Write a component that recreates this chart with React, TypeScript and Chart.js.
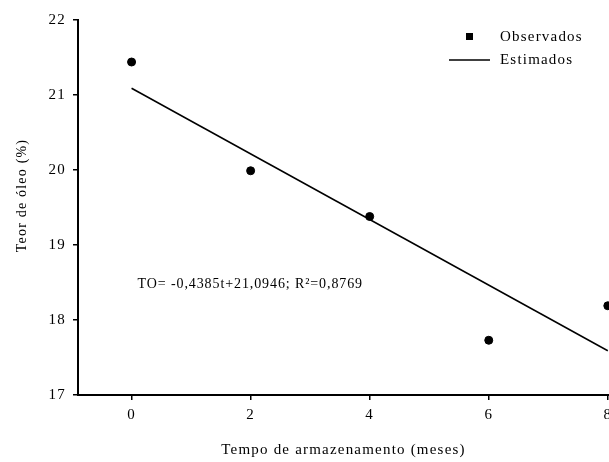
import React, { useEffect, useRef } from "react";
import { Chart, registerables } from "chart.js";

Chart.register(...registerables);

const xObserved = [0, 2, 4, 6, 8];
const yObserved = [21.44, 19.99, 19.38, 17.73, 18.19];
const xEstimated = [0, 8];
const yEstimated = [21.09, 17.59];
const xTicks = [0, 2, 4, 6, 8];
const yTicks = [17, 18, 19, 20, 21, 22];
const legendLabels = ["Observados", "Estimados"];
const equationText = "TO= -0,4385t+21,0946; R\u00b2=0,8769";
const xTitle = "Tempo de armazenamento (meses)";
const yTitle = "Teor de óleo (%)";

const FONT = "'Liberation Serif', 'Times New Roman', serif";
const SPACING = "1.2px";

const spacingPlugin = {
  id: "spacing",
  beforeInit(chart: any) {
    chart.ctx.letterSpacing = SPACING;
  },
  beforeUpdate(chart: any) {
    chart.ctx.letterSpacing = SPACING;
  },
  beforeDraw(chart: any) {
    chart.ctx.letterSpacing = SPACING;
  },
};

const overlayPlugin = {
  id: "overlay",
  afterDraw(chart: any) {
    const ctx = chart.ctx;
    const xs = chart.scales.x;
    const ys = chart.scales.y;
    ctx.save();
    ctx.letterSpacing = SPACING;
    ctx.fillStyle = "#000";
    ctx.strokeStyle = "#000";
    ctx.font = `15px ${FONT}`;
    ctx.textBaseline = "middle";
    ctx.textAlign = "left";
    // legend
    ctx.fillRect(466, 33, 7, 7);
    ctx.fillText(legendLabels[0], 500, 37);
    ctx.lineWidth = 1.5;
    ctx.beginPath();
    ctx.moveTo(449, 60);
    ctx.lineTo(490, 60);
    ctx.stroke();
    ctx.fillText(legendLabels[1], 500, 60);
    // equation
    ctx.letterSpacing = "0.9px";
    ctx.font = `14px ${FONT}`;
    ctx.fillText(equationText, xs.getPixelForValue(0.1), ys.getPixelForValue(18.48));
    // y title
    ctx.letterSpacing = SPACING;
    ctx.font = `14px ${FONT}`;
    ctx.textAlign = "center";
    ctx.translate(22, ys.getPixelForValue(19.66));
    ctx.rotate(-Math.PI / 2);
    ctx.fillText(yTitle, 0, 0);
    ctx.restore();
  },
};

export default function App() {
  const ref = useRef<HTMLCanvasElement | null>(null);
  useEffect(() => {
    document.body.style.margin = "0";
    const canvas = ref.current;
    if (!canvas) return;
    const chart = new Chart(canvas, {
      type: "scatter",
      data: {
        datasets: [
          {
            label: legendLabels[0],
            data: xObserved.map((x, i) => ({ x, y: yObserved[i] })),
            backgroundColor: "#000",
            borderColor: "#000",
            pointRadius: 4,
            pointHoverRadius: 4,
            clip: false as any,
          },
          {
            type: "line" as any,
            label: legendLabels[1],
            data: xEstimated.map((x, i) => ({ x, y: yEstimated[i] })),
            borderColor: "#000",
            borderWidth: 1.5,
            pointRadius: 0,
            fill: false,
            clip: false as any,
          },
        ],
      },
      options: {
        responsive: false,
        animation: false,
        layout: { padding: { top: 20, right: 0, left: 0, bottom: 0 } },
        plugins: {
          legend: { display: false },
          tooltip: { enabled: false },
        },
        scales: {
          x: {
            type: "linear",
            min: -0.9,
            max: 8.02,
            afterBuildTicks: (s: any) => {
              s.ticks = xTicks.map((v) => ({ value: v }));
            },
            afterFit: (s: any) => {
              s.height = 67;
              s.paddingLeft = 0;
              s.paddingRight = 0;
            },
            grid: { drawOnChartArea: false, drawTicks: true, tickLength: 5, color: "#000", lineWidth: 1.5 },
            border: { display: true, color: "#000", width: 2 },
            ticks: {
              color: "#000",
              font: { family: FONT, size: 15 },
              padding: 6,
              maxRotation: 0,
              autoSkip: false,
            },
            title: {
              display: true,
              text: xTitle,
              color: "#000",
              font: { family: FONT, size: 15 },
              padding: { top: 0, bottom: 3 },
            },
          },
          y: {
            type: "linear",
            min: 17,
            max: 22,
            afterBuildTicks: (s: any) => {
              s.ticks = yTicks.map((v) => ({ value: v }));
            },
            afterFit: (s: any) => {
              s.width = 78;
              s.paddingTop = 0;
              s.paddingBottom = 0;
            },
            grid: { drawOnChartArea: false, drawTicks: true, tickLength: 5, color: "#000", lineWidth: 1.5 },
            border: { display: true, color: "#000", width: 2 },
            ticks: {
              color: "#000",
              font: { family: FONT, size: 15 },
              padding: 7,
            },
            title: { display: false },
          },
        },
      },
      plugins: [spacingPlugin, overlayPlugin],
    });
    return () => chart.destroy();
  }, []);
  return (
    <div style={{ width: 609, height: 462, background: "#fff", overflow: "hidden" }}>
      <canvas ref={ref} width={614} height={462} style={{ display: "block" }} />
    </div>
  );
}
